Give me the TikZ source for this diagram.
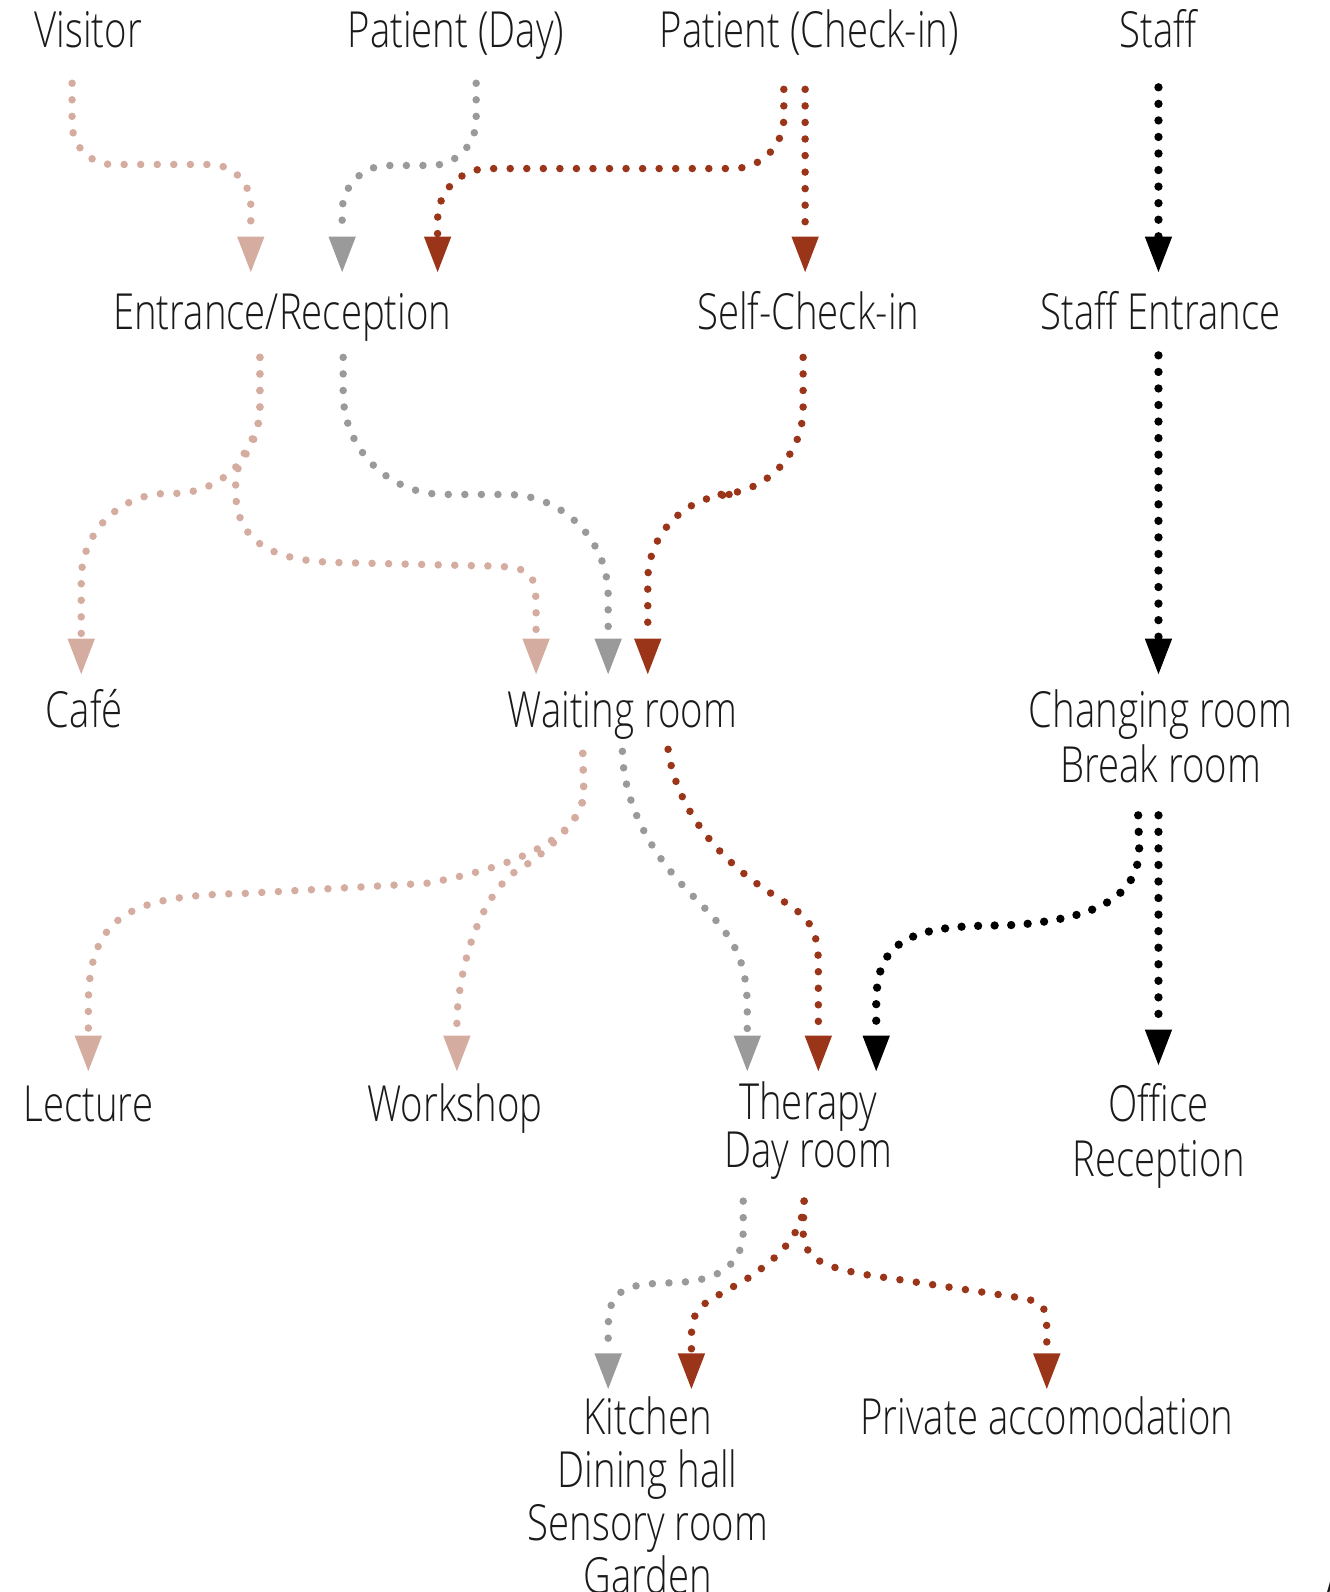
\documentclass[tikz,border=0pt]{standalone}
\usepackage{fontspec}
\IfFontExistsTF{Open Sans Light}{%
  \setmainfont{Open Sans Light}[FakeStretch=0.77]%
  \newfontfamily\pagenofont{Open Sans Light}[FakeSlant=0.2]%
}{%
  \setmainfont{Open Sans}[FakeStretch=0.74]%
  \newfontfamily\pagenofont{Open Sans}[FakeSlant=0.2]%
}
\usetikzlibrary{arrows.meta,calc}

\definecolor{visitc}{RGB}{213,172,160}
\definecolor{dayc}{RGB}{154,154,154}
\definecolor{checkc}{RGB}{155,53,25}
\definecolor{staffc}{RGB}{0,0,0}
\definecolor{labelc}{RGB}{26,26,26}

% multi-line places are anchored at the baseline of their last line
\tikzset{
  place/.style={font=\fontsize{49}{54}\selectfont, text=labelc, inner sep=0pt,
                anchor=base, align=center},
  flow/.style={line width=7.4pt, line cap=round, dash pattern=on 0pt off 16.3pt,
               -{Triangle[width=27pt,length=35pt,line width=0pt]}},
  visitor/.style={flow, draw=visitc},
  daypat/.style={flow, draw=dayc},
  checkin/.style={flow, draw=checkc},
  staffer/.style={flow, draw=staffc, line width=8.2pt},
}

\begin{document}
\begin{tikzpicture}[x=1pt, y=-1pt]
\useasboundingbox (0,0) rectangle (1309,1568);

% ---- user groups ----
\node[place] (vis)    at (87,47)   {Visitor};
\node[place] (pday)   at (449,47)  {Patient (Day)};
\node[place] (pcheck) at (797,47)  {Patient (Check-in)};
\node[place] (staff)  at (1141,47) {Staff};

% ---- entrances ----
\node[place] (entr)  at (278,325)  {Entrance/Reception};
\node[place] (selfc) at (796,325)  {Self-Check-in};
\node[place] (stent) at (1143,325) {Staff Entrance};

% ---- second level ----
\node[place] (cafe)   at (83,717)   {Café};
\node[place] (wait)   at (613,717)  {Waiting room};
\node[place] (change) at (1143,771) {Changing room\\Break room};

% ---- third level ----
\node[place] (lect)   at (87,1105)   {Lecture};
\node[place] (work)   at (448,1105)  {Workshop};
\node[place, font=\fontsize{49}{45}\selectfont] (ther) at (796,1150) {Therapy\\Day room};
\node[place] (office) at (1141,1159) {Office\\Reception};

% ---- fourth level ----
\node[place, font=\fontsize{49}{52}\selectfont] (kitch) at (638,1569)
  {Kitchen\\Dining hall\\Sensory room\\Garden};
\node[place] (priv) at (1031,1413) {Private accomodation};

\node[font=\pagenofont\fontsize{49}{54}\selectfont, text=labelc, inner sep=0pt,
      anchor=north west] (pageno) at (1297,1558) {5};

% ---- row 1: groups to entrances ----
\draw[visitor] ($(vis.base)+(-16,35)$) [rounded corners=40pt] -- ++(0,80)
  -- ++(176,0) [rounded corners=40pt] -- ($(entr.base)+(-31,-57)$);
\draw[daypat] ($(pday.base)+(20,35)$) [rounded corners=45pt] -- ++(0,81)
  -- ++(-132,0) [rounded corners=38pt] -- ($(entr.base)+(59,-57)$);
\draw[checkin] ($(pcheck.base)+(-25,41)$) [rounded corners=50pt] -- ++(0,78)
  -- ++(-341,0) [rounded corners=50pt] -- ($(entr.base)+(153,-57)$);
\draw[checkin] ($(pcheck.base)+(-4,41)$) -- ($(selfc.base)+(-3,-57)$);
\draw[staffer] ($(staff.base)+(0,39)$) -- ($(stent.base)+(-2,-57)$);

% ---- row 2: entrances to second level ----
\draw[visitor] ($(entr.base)+(-22,27)$) [rounded corners=85pt] -- ++(0,134)
  -- ++(-176,0) [rounded corners=55pt] -- ($(cafe.base)+(-3,-53)$);
\draw[visitor] ($(entr.base)+(-22,27)$) -- (256,400)
  .. controls (256,440) and (232,440) .. (232,482)
  .. controls (232,530) and (262,552) .. (330,554)
  -- (460,557) .. controls (528,558) .. (528,610)
  -- ($(wait.base)+(-85,-53)$);
\draw[daypat] ($(entr.base)+(60,27)$) [rounded corners=100pt] -- ++(0,135)
  -- ++(261,0) [rounded corners=60pt] -- ($(wait.base)+(-14,-53)$);
\draw[checkin] ($(selfc.base)+(-5,27)$) [rounded corners=85pt] -- ++(0,135)
  -- ++(-153,0) [rounded corners=55pt] -- ($(wait.base)+(25,-53)$);
\draw[staffer] ($(stent.base)+(-2,25)$) -- ($(change.base)+(-2,-107)$);

% ---- row 3: second level to third level ----
\draw[visitor] ($(wait.base)+(-39,25)$) -- (575,780)
  .. controls (575,815) and (530,850) .. (420,870)
  -- (240,880) .. controls (130,882) and (87,900) .. (87,990)
  -- ($(lect.base)+(0,-50)$);
\draw[visitor] ($(wait.base)+(-39,25)$) -- (575,780)
  .. controls (575,805) and (542,836) .. (518,852)
  .. controls (484,868) and (456,925) .. (450,1000)
  -- ($(work.base)+(2,-50)$);
\draw[daypat] ($(wait.base)+(0,23)$)
  .. controls (614,790) and (640,840) .. (680,880)
  .. controls (720,920) and (736,940) .. (736,995)
  -- ($(ther.base)+(-60,-95)$);
\draw[checkin] ($(wait.base)+(45,21)$)
  .. controls (665,790) and (700,840) .. (755,877)
  .. controls (790,900) and (806,905) .. (806,950)
  -- ($(ther.base)+(10,-95)$);
\draw[staffer] ($(change.base)+(-22,32)$) -- (1122,835)
  .. controls (1122,888) and (1070,905) .. (1000,911)
  -- (960,912) .. controls (880,915) and (863,940) .. (863,990)
  -- ($(ther.base)+(67,-95)$);
\draw[staffer] ($(change.base)+(-2,32)$) -- ($(office.base)+(0,-110)$);

% ---- row 4: therapy to fourth level ----
\draw[daypat] ($(ther.base)+(-64,33)$) -- (732,1212)
  .. controls (732,1240) and (715,1260) .. (670,1263)
  -- (650,1264) .. controls (605,1265) and (599,1280) .. (599,1310)
  -- ($(kitch.base)+(-39,-201)$);
\draw[checkin] ($(ther.base)+(-4,33)$)
  .. controls (791,1215) and (768,1238) .. (735,1260)
  -- (705,1277) .. controls (683,1289) and (681,1300) .. (681,1318)
  -- ($(kitch.base)+(43,-201)$);
\draw[checkin] ($(ther.base)+(-4,33)$) -- (791,1212)
  .. controls (791,1240) and (810,1247) .. (850,1255)
  -- (990,1276) .. controls (1031,1282) .. (1031,1320)
  -- ($(priv.base)+(0,-45)$);

\end{tikzpicture}
\end{document}
